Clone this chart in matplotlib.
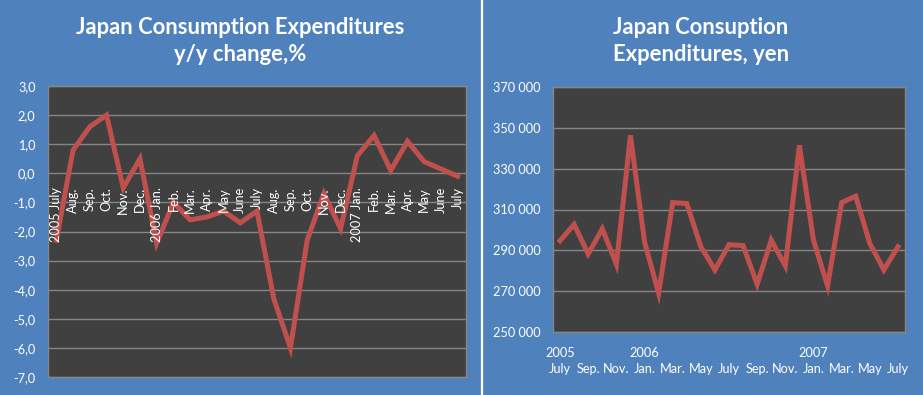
import matplotlib
matplotlib.use("Agg")
import matplotlib.pyplot as plt
from matplotlib.lines import Line2D
from matplotlib.ticker import FuncFormatter

# data: monthly, 2005 July .. 2007 July
months = ["2005 July", "Aug.", "Sep.", "Oct.", "Nov.", "Dec.",
          "2006 Jan.", "Feb.", "Mar.", "Apr.", "May", "June", "July",
          "Aug.", "Sep.", "Oct.", "Nov.", "Dec.",
          "2007 Jan.", "Feb.", "Mar.", "Apr.", "May", "June", "July"]
yoy_change = [-2.3, 0.8, 1.6, 2.0, -0.5, 0.5, -2.4, -1.0, -1.6, -1.5, -1.3, -1.7, -1.3,
              -4.3, -6.0, -2.3, -0.7, -1.9, 0.6, 1.3, 0.1, 1.1, 0.4, 0.15, -0.1]
expenditures = [294700, 302700, 288200, 300600, 283200, 346300, 294200, 269000,
                313400, 312900, 291800, 280400, 292800, 292300, 273400, 295000,
                282400, 341400, 295000, 272600, 313400, 316500, 293400, 280400, 291800]
right_ticklabels = ["2005\nJuly", "\nSep.", "\nNov.", "2006\nJan.", "\nMar.", "\nMay",
                    "\nJuly", "\nSep.", "\nNov.", "2007\nJan.", "\nMar.", "\nMay", "\nJuly"]

BG = "#4F81BD"
PLOT_BG = "#404040"
LINE = "#C0504D"
GRID = "#868686"
W, H = 923, 395

plt.rcParams['font.family'] = ['Lato', 'DejaVu Sans']

fig = plt.figure(figsize=(W / 100, H / 100), dpi=100, facecolor=BG)

# white separator between the two panels
fig.add_artist(Line2D([481.5 / W, 481.5 / W], [0, 1], color="white", lw=1.6))


def style(ax):
    ax.set_facecolor(PLOT_BG)
    for s in ax.spines.values():
        s.set_color(GRID)
        s.set_linewidth(1.0)
    ax.grid(axis='y', color=GRID, lw=1.0)
    ax.set_axisbelow(True)
    ax.tick_params(length=0, colors="white", labelsize=9.2, pad=9)


# left chart
ax1 = fig.add_axes([48 / W, (H - 377) / H, 418 / W, (377 - 86) / H])
style(ax1)
x = list(range(len(months)))
ax1.plot(x, yoy_change, color=LINE, lw=3.6, solid_joinstyle='miter')
ax1.set_xlim(-0.5, len(months) - 0.5)
ax1.set_ylim(-7, 3)
ax1.set_yticks(range(-7, 4))
ax1.yaxis.set_major_formatter(FuncFormatter(lambda v, p: f"{v:.1f}".replace(".", ",")))
ax1.set_xticks([])
for i, m in enumerate(months):
    ax1.annotate(m, xy=(i, 0), xytext=(0, -10), textcoords='offset points',
                 rotation=90, ha='center', va='top', color='white', fontsize=9.2)
fig.text(240 / W, 1 - 41 / H, "Japan Consumption Expenditures\ny/y change,%",
         ha='center', va='center', color='white', fontsize=15.8, fontweight='bold',
         linespacing=1.3)

# right chart
ax2 = fig.add_axes([553 / W, (H - 332) / H, 352 / W, (332 - 87) / H])
style(ax2)
ax2.plot(x, expenditures, color=LINE, lw=3.6, solid_joinstyle='miter')
ax2.set_xlim(-0.5, len(expenditures) - 0.5)
ax2.set_ylim(250000, 370000)
ax2.set_yticks(range(250000, 370001, 20000))
ax2.yaxis.set_major_formatter(FuncFormatter(lambda v, p: f"{int(v):,}".replace(",", " ")))
ax2.set_xticks(x[::2])
ax2.set_xticklabels(right_ticklabels, linespacing=1.4)
ax2.tick_params(axis='x', pad=11)
fig.text(701 / W, 1 - 41 / H, "Japan Consuption\nExpenditures, yen",
         ha='center', va='center', color='white', fontsize=15.8, fontweight='bold',
         linespacing=1.3)

fig.savefig("out.png", dpi=100, facecolor=BG)
